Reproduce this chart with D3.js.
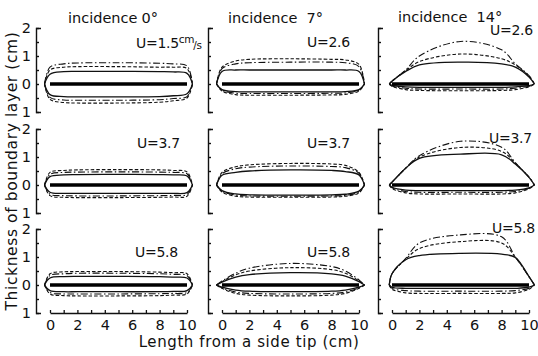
<!DOCTYPE html>
<html>
<head>
<meta charset="utf-8">
<script src="https://cdn.jsdelivr.net/npm/d3@7"></script>
<style>
  html, body { margin: 0; padding: 0; background: #fff; }
  svg { display: block; font-family: "DejaVu Sans", sans-serif; }
</style>
</head>
<body>
<svg id="chart" width="538" height="356"></svg>
<script>
// stations along the plate (cm) where thickness was read
const stations = [-0.4, 0, 1, 2, 5, 8, 9, 10, 10.4];
const stations14 = [-0.2, 0, 1, 2, 5, 8, 9, 10, 10.4];   // 14° panels close nearer the tips
const incidences = ["0°", "7°", "14°"];
const speeds = [["1.5", "2.6", "2.6"], ["3.7", "3.7", "3.7"], ["5.8", "5.8", "5.8"]];
const xTicks = [0, 1, 2, 3, 4, 5, 6, 7, 8, 9, 10];
const yTicks = [-1, -0.5, 0, 0.5, 1, 1.5, 2];
const yLabels = [-1, 0, 1, 2];

// each: [solid, dashed, dash-dot]  (thickness in cm)
const upper11 = [
  [0, 0.35, 0.44, 0.45, 0.45, 0.44, 0.43, 0.38, 0],
  [0, 0.5, 0.6, 0.62, 0.62, 0.6, 0.6, 0.55, 0],
  [0, 0.6, 0.72, 0.75, 0.76, 0.74, 0.72, 0.65, 0]];
const lower11 = [
  [0, -0.38, -0.45, -0.46, -0.46, -0.45, -0.42, -0.35, 0],
  [0, -0.55, -0.66, -0.68, -0.68, -0.65, -0.6, -0.5, 0],
  [0, -0.48, -0.57, -0.58, -0.58, -0.56, -0.52, -0.45, 0]];
const upper12 = [
  [0, 0.45, 0.5, 0.5, 0.5, 0.5, 0.5, 0.45, 0],
  [0, 0.6, 0.82, 0.88, 0.9, 0.88, 0.86, 0.7, 0],
  [0, 0.55, 0.72, 0.76, 0.78, 0.78, 0.76, 0.62, 0]];
const lower12 = [
  [0, -0.2, -0.27, -0.28, -0.28, -0.28, -0.27, -0.2, 0],
  [0, -0.25, -0.38, -0.4, -0.4, -0.39, -0.37, -0.25, 0],
  [0, -0.22, -0.33, -0.34, -0.34, -0.33, -0.32, -0.22, 0]];
const upper13 = [
  [0, 0.1, 0.45, 0.68, 0.78, 0.72, 0.6, 0.25, 0],
  [0, 0.1, 0.48, 0.8, 1.07, 0.9, 0.68, 0.28, 0],
  [0, 0.1, 0.5, 1.0, 1.52, 1.22, 0.72, 0.3, 0]];
const lower13 = [
  [0, -0.05, -0.1, -0.12, -0.12, -0.12, -0.1, -0.06, 0],
  [0, -0.08, -0.2, -0.23, -0.24, -0.23, -0.2, -0.1, 0],
  [0, -0.07, -0.15, -0.18, -0.18, -0.18, -0.15, -0.08, 0]];
const upper21 = [
  [0, 0.3, 0.36, 0.37, 0.38, 0.37, 0.36, 0.32, 0],
  [0, 0.45, 0.52, 0.54, 0.55, 0.54, 0.52, 0.47, 0],
  [0, 0.38, 0.45, 0.46, 0.47, 0.46, 0.45, 0.4, 0]];
const lower21 = [
  [0, -0.26, -0.3, -0.3, -0.3, -0.3, -0.3, -0.27, 0],
  [0, -0.38, -0.44, -0.45, -0.45, -0.44, -0.43, -0.4, 0],
  [0, -0.33, -0.38, -0.39, -0.39, -0.38, -0.37, -0.34, 0]];
const upper22 = [
  [0, 0.35, 0.45, 0.5, 0.54, 0.52, 0.48, 0.36, 0],
  [0, 0.45, 0.65, 0.72, 0.77, 0.75, 0.7, 0.45, 0],
  [0, 0.4, 0.58, 0.64, 0.68, 0.66, 0.62, 0.42, 0]];
const lower22 = [
  [0, -0.2, -0.32, -0.35, -0.36, -0.35, -0.33, -0.22, 0],
  [0, -0.25, -0.4, -0.43, -0.44, -0.43, -0.4, -0.28, 0],
  [0, -0.22, -0.36, -0.39, -0.4, -0.39, -0.37, -0.25, 0]];
const upper23 = [
  [0, 0.1, 0.6, 0.95, 1.1, 1.08, 0.75, 0.27, 0],
  [0, 0.1, 0.6, 1.0, 1.34, 1.2, 0.78, 0.28, 0],
  [0, 0.1, 0.6, 1.05, 1.56, 1.35, 0.8, 0.28, 0]];
const lower23 = [
  [0, -0.08, -0.18, -0.2, -0.2, -0.2, -0.18, -0.1, 0],
  [0, -0.12, -0.28, -0.32, -0.32, -0.32, -0.28, -0.14, 0],
  [0, -0.1, -0.23, -0.26, -0.26, -0.26, -0.23, -0.12, 0]];
const upper31 = [
  [0, 0.25, 0.3, 0.31, 0.31, 0.3, 0.28, 0.25, 0],
  [0, 0.4, 0.47, 0.48, 0.48, 0.46, 0.44, 0.4, 0],
  [0, 0.34, 0.4, 0.42, 0.42, 0.4, 0.38, 0.34, 0]];
const lower31 = [
  [0, -0.2, -0.24, -0.24, -0.24, -0.24, -0.23, -0.2, 0],
  [0, -0.32, -0.38, -0.39, -0.39, -0.38, -0.36, -0.32, 0],
  [0, -0.27, -0.32, -0.32, -0.32, -0.31, -0.3, -0.27, 0]];
const upper32 = [
  [0, 0.1, 0.28, 0.37, 0.44, 0.4, 0.32, 0.12, 0],
  [0, 0.12, 0.36, 0.5, 0.62, 0.55, 0.42, 0.15, 0],
  [0, 0.14, 0.42, 0.6, 0.77, 0.66, 0.5, 0.18, 0]];
const lower32 = [
  [0, -0.08, -0.18, -0.22, -0.24, -0.22, -0.18, -0.08, 0],
  [0, -0.12, -0.3, -0.36, -0.39, -0.36, -0.3, -0.12, 0],
  [0, -0.1, -0.25, -0.3, -0.32, -0.3, -0.25, -0.1, 0]];
const upper33 = [
  [0, 0.4, 0.9, 1.05, 1.13, 1.1, 0.98, 0.3, 0],
  [0, 0.4, 0.92, 1.3, 1.55, 1.5, 1.0, 0.3, 0],
  [0, 0.4, 0.95, 1.5, 1.79, 1.72, 1.0, 0.3, 0]];
const lower33 = [
  [0, -0.08, -0.12, -0.12, -0.12, -0.12, -0.12, -0.08, 0],
  [0, -0.15, -0.28, -0.3, -0.3, -0.3, -0.28, -0.15, 0],
  [0, -0.12, -0.2, -0.22, -0.22, -0.22, -0.2, -0.12, 0]];

const curves = [
  [[upper11, lower11], [upper12, lower12], [upper13, lower13]],
  [[upper21, lower21], [upper22, lower22], [upper23, lower23]],
  [[upper31, lower31], [upper32, lower32], [upper33, lower33]]
];

// layout
const colX0 = [50, 222, 392];      // pixel of x = 0 cm in each column
const rowY0 = [84, 185, 285];      // pixel of y = 0 cm in each row
const pxPerCmX = 13.7, pxPerCmY = 28;
const uPos = [[[136, 48], [307, 47], [490, 35]],
              [[137, 148], [307, 148], [489, 143]],
              [[135, 257], [307, 257], [492, 233]]];
const titlePos = [[68, 23], [228, 23], [398, 22]];
const dashes = [null, "3.5,2", "7,2.5,1.5,2.5"];

const svg = d3.select("#chart");
svg.append("rect").attr("width", 538).attr("height", 356).attr("fill", "#fff");

for (let r = 0; r < 3; r++) {
  for (let c = 0; c < 3; c++) {
    const x = d3.scaleLinear().domain([0, 10]).range([colX0[c], colX0[c] + 10 * pxPerCmX]);
    const y = d3.scaleLinear().domain([-1, 2]).range([rowY0[r] + pxPerCmY, rowY0[r] - 2 * pxPerCmY]);
    const g = svg.append("g");
    const axisX = colX0[c] - 14;
    const st = c === 2 ? stations14 : stations;

    // y axis (bracket with inner ticks)
    const ya = g.append("g")
      .attr("transform", `translate(${axisX},0)`)
      .call(d3.axisRight(y).tickValues(yTicks).tickSizeInner(3).tickSizeOuter(5).tickFormat(""));
    ya.selectAll("path, line").attr("stroke", "#111").attr("stroke-width", 1.4);

    if (c === 0) {
      const yl = g.append("g")
        .attr("transform", `translate(${axisX},0)`)
        .call(d3.axisLeft(y).tickValues(yLabels).tickSize(0).tickPadding(5).tickFormat(d => Math.abs(d)));
      yl.select(".domain").remove();
      yl.selectAll("text").attr("font-size", 14.5).attr("font-family", "DejaVu Sans").attr("fill", "#111");
    }

    if (r === 2) {
      const xa = g.append("g")
        .attr("transform", `translate(0,${y(-1)})`)
        .call(d3.axisBottom(x).tickValues(xTicks).tickSizeInner(-3).tickSizeOuter(0).tickPadding(7)
          .tickFormat(d => d % 2 === 0 ? d : ""));
      xa.selectAll("path, line").attr("stroke", "#111").attr("stroke-width", 1.3);
      xa.selectAll("text").attr("font-size", 14.5).attr("font-family", "DejaVu Sans").attr("fill", "#111");
    }

    const line = d3.line()
      .x((d, i) => x(st[i]))
      .y(d => y(d))
      .curve(d3.curveCatmullRom.alpha(0.5));

    const [up, lo] = curves[r][c];
    [up, lo].forEach(set => {
      g.selectAll(null).data(set).enter().append("path")
        .attr("d", d => line(d))
        .attr("fill", "none")
        .attr("stroke", "#111")
        .attr("stroke-width", (d, i) => i === 0 ? 1.3 : 1.1)
        .attr("stroke-dasharray", (d, i) => dashes[i]);
    });

    // the plate
    g.append("line")
      .attr("x1", x(0)).attr("x2", x(10))
      .attr("y1", y(0)).attr("y2", y(0))
      .attr("stroke", "#000").attr("stroke-width", 3.6);

    // speed label
    const ut = g.append("text")
      .attr("x", uPos[r][c][0]).attr("y", uPos[r][c][1])
      .attr("font-size", 14).attr("fill", "#111")
      .attr("letter-spacing", -0.3)
      .text("U=" + speeds[r][c]);
    if (r === 0 && c === 0) {
      ut.append("tspan").attr("font-size", 10.5).attr("dy", -5).text("cm");
      ut.append("tspan").attr("font-size", 10.5).attr("dy", 6).attr("dx", -1).text("/s");
    }

    if (r === 0) {
      const tt = g.append("text")
        .attr("x", titlePos[c][0]).attr("y", titlePos[c][1])
        .attr("font-size", 14.5).attr("fill", "#111")
        .text("incidence");
      tt.append("tspan").attr("dx", c === 0 ? 4 : 9).text(incidences[c]);
    }
  }
}

svg.append("text")
  .attr("transform", "translate(17,171) rotate(-90)")
  .attr("text-anchor", "middle")
  .attr("font-size", 15.5).attr("fill", "#111")
  .attr("letter-spacing", 0.6)
  .text("Thickness of boundary layer (cm)");

svg.append("text")
  .attr("x", 249).attr("y", 347)
  .attr("text-anchor", "middle")
  .attr("font-size", 15).attr("fill", "#111")
  .attr("letter-spacing", 0.6)
  .text("Length from a side tip (cm)");
</script>
</body>
</html>
